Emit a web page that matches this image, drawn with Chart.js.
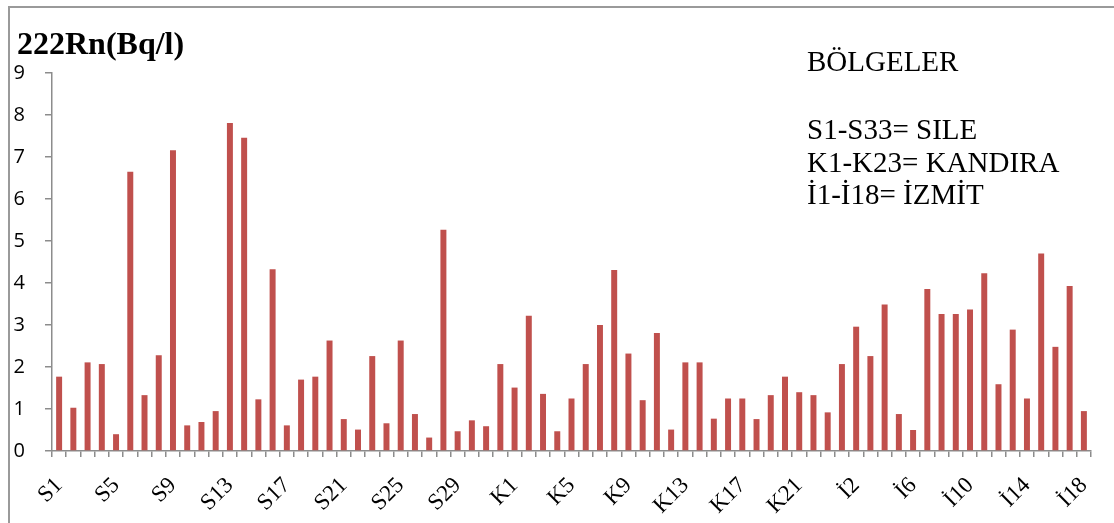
<!DOCTYPE html>
<html>
<head>
<meta charset="utf-8">
<script src="https://cdn.jsdelivr.net/npm/chart.js@4/dist/chart.umd.min.js"></script>
<style>
  html, body { margin: 0; padding: 0; background: #fff; }
  #wrap { width: 1114px; height: 523px; position: relative; }
</style>
</head>
<body>
<div id="wrap"><canvas id="radon" width="1114" height="523"></canvas></div>
<script>
// bölge etiketleri
const sileLabels = ['S1','S2','S3','S4','S5','S6','S7','S8','S9','S10','S11','S12','S13','S14','S15','S16',
  'S17','S18','S19','S20','S21','S22','S23','S24','S25','S26','S27','S28','S29','S30','S31','S32'];
const kandiraLabels = ['K1','K2','K3','K4','K5','K6','K7','K8','K9','K10','K11','K12','K13','K14','K15','K16',
  'K17','K18','K19','K20','K21','K22','K23'];
const izmitLabels = ['İ1','İ2','İ3','İ4','İ5','İ6','İ7','İ8','İ9','İ10','İ11','İ12','İ13','İ14','İ15','İ16','İ17','İ18'];

// 222Rn (Bq/l) ölçümleri
const sileValues = [1.77, 1.03, 2.11, 2.07, 0.40, 6.65, 1.33, 2.28, 7.16, 0.61, 0.69, 0.95, 7.81, 7.46, 1.23, 4.33,
  0.61, 1.70, 1.77, 2.63, 0.76, 0.51, 2.26, 0.66, 2.63, 0.88, 0.32, 5.27, 0.47, 0.73, 0.59, 2.07];
const kandiraValues = [1.51, 3.22, 1.36, 0.47, 1.25, 2.07, 3.00, 4.31, 2.32, 1.21, 2.81, 0.51, 2.11, 2.11, 0.77, 1.25,
  1.25, 0.76, 1.33, 1.77, 1.40, 1.33, 0.92];
const izmitValues = [2.07, 2.96, 2.26, 3.49, 0.88, 0.50, 3.86, 3.26, 3.26, 3.37, 4.23, 1.59, 2.89, 1.25, 4.70, 2.48,
  3.93, 0.95];

const yTicks = [0, 1, 2, 3, 4, 5, 6, 7, 8, 9];

const legendLines = ['BÖLGELER', '', 'S1-S33= SILE', 'K1-K23= KANDIRA', 'İ1-İ18= İZMİT'];

const labels = sileLabels.concat(kandiraLabels, izmitLabels);
const values = sileValues.concat(kandiraValues, izmitValues);

const axisGray = '#8c8c8c';

// başlık, bölge açıklaması ve çerçeve
const decorations = {
  id: 'decorations',
  afterDraw(chart) {
    const ctx = chart.ctx;
    ctx.save();
    ctx.strokeStyle = '#9a9a9a';
    ctx.lineWidth = 2;
    ctx.beginPath();
    ctx.moveTo(9, 523);
    ctx.lineTo(9, 7);
    ctx.lineTo(1114, 7);
    ctx.stroke();

    ctx.fillStyle = '#000';
    ctx.textBaseline = 'alphabetic';
    ctx.textAlign = 'left';
    ctx.font = 'bold 32px "Liberation Serif"';
    ctx.fillText('222Rn(Bq/l)', 17, 54);

    ctx.font = '29px "Liberation Serif"';
    const baselines = [71, 105, 139, 172, 204];
    legendLines.forEach((t, i) => {
      if (t) ctx.fillText(t, 807, baselines[i]);
    });
    ctx.restore();
  }
};

new Chart(document.getElementById('radon'), {
  type: 'bar',
  data: {
    labels: labels,
    datasets: [{
      label: '222Rn(Bq/l)',
      data: values,
      backgroundColor: '#C0504D',
      borderWidth: 0,
      barPercentage: 0.42,
      categoryPercentage: 1.0
    }]
  },
  options: {
    responsive: false,
    animation: false,
    layout: { padding: { top: 73, right: 23, left: 0, bottom: 0 } },
    plugins: {
      legend: { display: false },
      tooltip: { enabled: false }
    },
    scales: {
      y: {
        min: 0,
        max: 9,
        afterFit: s => { s.width = 52; },
        afterBuildTicks: s => { s.ticks = yTicks.map(v => ({ value: v })); },
        ticks: {
          color: '#000',
          padding: 20,
          font: { family: 'Open Sans', size: 20 }
        },
        grid: { drawOnChartArea: false, tickLength: 7, color: axisGray, lineWidth: 1.5 },
        border: { color: axisGray, width: 1.5 }
      },
      x: {
        // döndürülmüş etiketler grafik alanını daraltmasın
        afterFit: s => { s.height = 72; s.paddingLeft = 0; s.paddingRight = 0; },
        ticks: {
          color: '#000',
          autoSkip: false,
          minRotation: 45,
          maxRotation: 45,
          padding: 15,
          font: { family: 'Liberation Serif', size: 23 },
          callback: (v, i) => (i % 4 === 0 ? labels[i] : '')
        },
        grid: { drawOnChartArea: false, tickLength: 6, color: axisGray, lineWidth: 1.5, offset: true },
        border: { color: axisGray, width: 1.5 }
      }
    }
  },
  plugins: [decorations]
});
</script>
</body>
</html>
